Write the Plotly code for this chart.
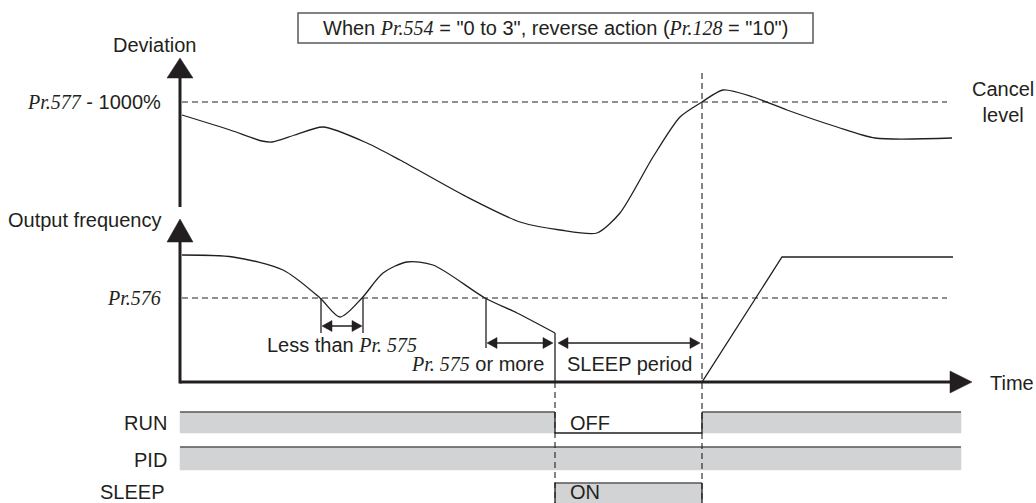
import plotly.graph_objects as go

# ---------------- data (time positions / signal levels) ----------------
# deviation signal (time, level) - level axis points downward on screen
dev_t = [182, 230, 262, 272, 295, 323, 367, 400, 467, 520, 560, 597, 620, 653, 680, 702, 723, 753, 787, 837, 875, 952]
dev_v = [115, 130, 141, 142, 135, 127, 143, 160, 197, 222, 230, 233, 213, 157, 117, 102, 90, 97, 110, 127, 138, 138]

# output frequency signal (smooth part before sleep)
freq_t = [182, 233, 283, 320, 340, 362, 383, 407, 433, 485, 517, 555]
freq_v = [255, 257, 270, 298, 317, 298, 273, 262, 265, 298, 313, 333]
# output frequency after sleep (drop, zero, restart ramp)
freq2_t = [555, 555, 702, 782, 953]
freq2_v = [333, 382, 382, 257, 257]

cancel_level = 102
pr576_level = 298
t_origin, t_end = 180, 950
sleep_start, sleep_end = 555, 702

# logic signal bars: (start, end) intervals where signal is ON
run_on = [(180, 555), (702, 961)]
pid_on = [(180, 961)]
sleep_on = [(555, 702)]
run_row, pid_row, sleep_row = (412, 433), (447, 470), (483, 510)

INK = "#231f20"
GRAY = "#d1d3d4"
EDGE = "#58595b"
SANS = "Liberation Sans, Arial, sans-serif"
SERIF = "Liberation Serif"
FS = 20

def it(s):
    return f"<span style=\"font-family:{SERIF}\"><i>{s}</i></span>"

fig = go.Figure()

def line(xs, ys, color=INK, width=1.3, dash=None, shape="linear", smoothing=None):
    ln = dict(color=color, width=width, shape=shape)
    if dash:
        ln["dash"] = dash
    if smoothing is not None:
        ln["smoothing"] = smoothing
    fig.add_trace(go.Scatter(x=xs, y=ys, mode="lines", line=ln, hoverinfo="skip", showlegend=False))

def poly(xs, ys, color):
    fig.add_trace(go.Scatter(x=xs + [xs[0]], y=ys + [ys[0]], mode="lines", fill="toself",
                             fillcolor=color, line=dict(color=color, width=0.5),
                             hoverinfo="skip", showlegend=False))

def head(x, y, direction, L=10, W=5.5):
    # small filled arrow head, tip at (x, y)
    if direction == "left":
        poly([x, x + L, x + L], [y, y - W, y + W], INK)
    elif direction == "right":
        poly([x, x - L, x - L], [y, y - W, y + W], INK)

def dim_arrow(x0, x1, y):
    line([x0 + 6, x1 - 6], [y, y], width=1.5)
    head(x0, y, "left")
    head(x1, y, "right")

# logic bars
def bars(intervals, row):
    for a, b in intervals:
        poly([a, b, b, a], [row[0], row[0], row[1], row[1]], GRAY)
        line([a, b], [row[0], row[0]], color=EDGE, width=1.6)

bars(run_on, run_row)
bars(pid_on, pid_row)
bars(sleep_on, sleep_row)
# RUN edges + OFF level
line([sleep_start, sleep_start, sleep_end, sleep_end], [run_row[0], run_row[1], run_row[1], run_row[0]], color=INK, width=1.3)
# SLEEP edges
line([sleep_start, sleep_start], [sleep_row[1], sleep_row[0]], color=INK, width=1.3)
line([sleep_end, sleep_end], [sleep_row[1], sleep_row[0]], color=INK, width=1.3)

# dashed reference lines
line([t_origin + 2, 947], [cancel_level, cancel_level], dash="6px,4px", width=1.1)
line([t_origin + 2, 947], [pr576_level, pr576_level], dash="6px,4px", width=1.1)
line([sleep_end, sleep_end], [73, 503], dash="6px,4px", width=1.1)
line([sleep_start, sleep_start], [382, 503], dash="6px,4px", width=1.1)

# signals
line(dev_t, dev_v, shape="spline", smoothing=0.7, width=1.3)
line(freq_t, freq_v, shape="spline", smoothing=0.8, width=1.3)
line(freq2_t, freq2_v, width=1.3)

# dimension marks
line([321, 321], [pr576_level, 333], width=1.3)
line([363, 363], [pr576_level, 333], width=1.3)
dim_arrow(322, 362, 326)
line([486, 486], [pr576_level, 348], width=1.3)
dim_arrow(487, 553, 343)
dim_arrow(558, 700, 343)

# axes
line([180, 180], [76, 207], width=3)
poly([180, 167, 193], [58, 78, 78], INK)
line([180, 180], [240, 383.5], width=3)
poly([180, 167, 193], [219, 242, 242], INK)
line([180, 952], [382, 382], width=3)
poly([972, 950, 950], [382, 371, 393], INK)

ann = []
def txt(x, y, s, xanchor="left", size=FS):
    ann.append(dict(x=x, y=y, text=s, showarrow=False, xanchor=xanchor, yanchor="middle",
                    font=dict(family=SANS, size=size, color=INK)))

txt(154, 45, "Deviation", "center")
txt(163, 102, it("Pr.577") + " - 1000%", "right")
txt(163, 220, "Output frequency", "right")
txt(163, 298, it("Pr.576"), "right")
txt(970, 102, "Cancel<br>level", "left")
txt(988, 383, "Time", "left")
txt(342, 345, "Less than " + it("Pr. 575"), "center")
txt(546, 364, it("Pr. 575") + " or more", "right")
txt(565, 364, "SLEEP period", "left")
txt(169, 423, "RUN", "right")
txt(169, 460, "PID", "right")
txt(166, 492, "SLEEP", "right")
txt(568, 423, "OFF", "left")
txt(568, 492, "ON", "left")
txt(555.5, 28, "When " + it("Pr.554") + " = \"0 to 3\", reverse action (" + it("Pr.128") + " = \"10\")", "center")

fig.add_shape(type="rect", x0=298, x1=813, y0=13, y1=43, line=dict(color=EDGE, width=1.5), fillcolor="white", layer="below")

fig.update_layout(
    width=1036, height=503,
    margin=dict(l=0, r=0, t=0, b=0),
    paper_bgcolor="white", plot_bgcolor="white",
    xaxis=dict(range=[0, 1036], visible=False, fixedrange=True),
    yaxis=dict(range=[503, 0], visible=False, fixedrange=True),
    annotations=ann,
    showlegend=False,
)
fig.write_html("out.html", config={"displayModeBar": False},
               post_script="document.body.style.margin='0';document.body.style.overflow='hidden';")
